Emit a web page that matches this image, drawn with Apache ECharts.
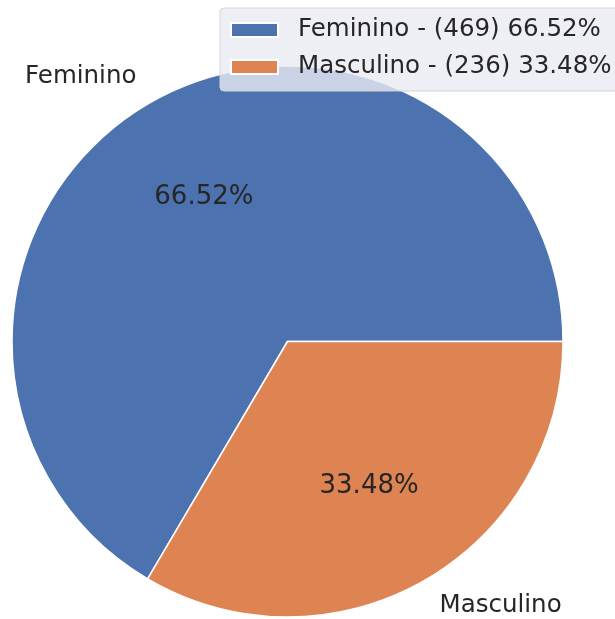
<!DOCTYPE html>
<html>
<head>
<meta charset="utf-8">
<script src="https://cdn.jsdelivr.net/npm/echarts@6/dist/echarts.min.js"></script>
<style>
  html, body { margin: 0; padding: 0; background: #fff; }
  #chart { width: 615px; height: 619px; }
</style>
</head>
<body>
<div id="chart"></div>
<script>
const categories = ['Feminino', 'Masculino']
const counts = [469, 236]
const colors = ['#4c72b0', '#dd8452']

const total = counts.reduce((a, b) => a + b, 0)
const pct = v => (v / total * 100).toFixed(2) + '%'

const pieData = categories.map((name, i) => ({
  name: name,
  value: counts[i],
  itemStyle: { color: colors[i] }
}))

const chart = echarts.init(document.getElementById('chart'))
chart.setOption({
  backgroundColor: '#ffffff',
  animation: false,
  textStyle: { fontFamily: 'DejaVu Sans' },
  legend: {
    orient: 'vertical',
    left: 220,
    top: 8,
    padding: [9, 30, 11, 10],
    itemWidth: 47,
    itemHeight: 14,
    itemGap: 11,
    icon: 'rect',
    backgroundColor: 'rgba(234,234,242,0.8)',
    borderColor: '#d4d4dc',
    borderWidth: 1,
    borderRadius: 4,
    data: categories.map((name, i) => ({ name: name, itemStyle: { color: colors[i] } })),
    formatter: name => {
      const i = categories.indexOf(name)
      return name + ' - (' + counts[i] + ') ' + pct(counts[i])
    },
    textStyle: {
      fontFamily: 'DejaVu Sans',
      fontSize: 24.5,
      lineHeight: 26,
      color: '#262626',
      padding: [0, 0, 0, 15]
    }
  },
  series: [
    {
      type: 'pie',
      center: [287.5, 341.5],
      radius: 275.5,
      startAngle: 0,
      clockwise: false,
      avoidLabelOverlap: false,
      silent: true,
      itemStyle: { borderColor: '#ffffff', borderWidth: 1.5 },
      label: {
        show: true,
        position: 'outside',
        alignTo: 'none',
        formatter: '{b}',
        fontFamily: 'DejaVu Sans',
        fontSize: 24.5,
        color: '#262626'
      },
      labelLine: { show: false, length: 29, length2: 0 },
      labelLayout: p => ({ dx: p.dataIndex === 0 ? 5 : -4 }),
      data: pieData
    },
    {
      type: 'pie',
      center: [287.5, 341.5],
      radius: 331,
      startAngle: 0,
      clockwise: false,
      silent: true,
      z: 3,
      itemStyle: { color: 'rgba(0,0,0,0)', borderWidth: 0 },
      label: {
        show: true,
        position: 'inside',
        formatter: p => pct(p.value),
        fontFamily: 'DejaVu Sans',
        fontSize: 26,
        color: '#262626'
      },
      labelLine: { show: false },
      labelLayout: p => (p.dataIndex === 0 ? { dx: 0, dy: 2 } : { dx: -2, dy: -2 }),
      data: categories.map((name, i) => ({ name: name, value: counts[i] }))
    }
  ]
})
</script>
</body>
</html>
